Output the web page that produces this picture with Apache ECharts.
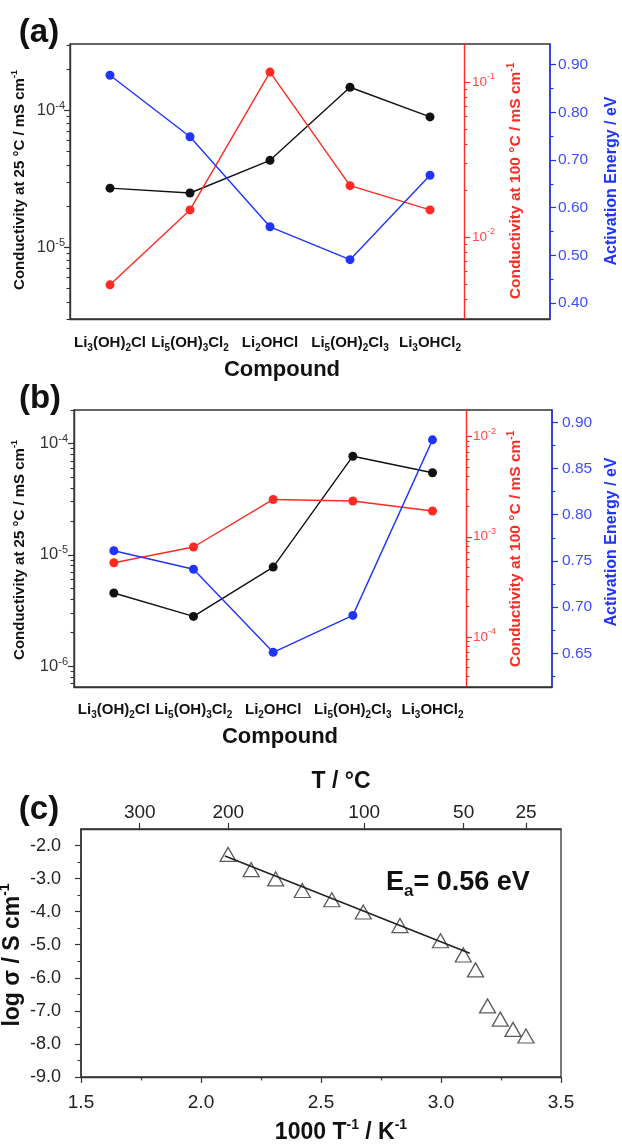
<!DOCTYPE html>
<html>
<head>
<meta charset="utf-8">
<script src="https://cdn.jsdelivr.net/npm/echarts@6/dist/echarts.min.js"></script>
<style>
html, body { margin: 0; padding: 0; background: #fff; }
#chart { width: 622px; height: 1145px; }
</style>
</head>
<body>
<div id="chart"></div>
<script>
// compounds on the x axis of (a) and (b); the 6th slot is left empty
var compounds = ['Li3(OH)2Cl', 'Li5(OH)3Cl2', 'Li2OHCl', 'Li5(OH)2Cl3', 'Li3OHCl2', ''];

// (a)
var condRtA = [2.70e-5, 2.49e-5, 4.31e-5, 1.47e-4, 8.94e-5];
var cond100A = [4.93e-3, 1.50e-2, 1.16e-1, 2.15e-2, 1.50e-2];
var eaA = [0.878, 0.749, 0.560, 0.491, 0.668];

// (b)
var condRtB = [4.54e-6, 2.80e-6, 7.76e-6, 7.69e-5, 5.46e-5];
var cond100B = [5.5e-4, 7.9e-4, 2.36e-3, 2.28e-3, 1.81e-3];
var eaB = [0.761, 0.741, 0.651, 0.691, 0.881];

// (c) arrhenius plot
var invT = [2.113, 2.209, 2.311, 2.422, 2.545, 2.676, 2.829, 2.998, 3.093, 3.144, 3.194, 3.247, 3.300, 3.354];
var logSigma = [-2.27, -2.73, -3.01, -3.36, -3.64, -4.01, -4.42, -4.88, -5.31, -5.76, -6.85, -7.25, -7.56, -7.76];
var fitX = [2.10, 3.12];
var fitY = [-2.32, -5.26];

// tick labels
var rtTicksA = [1e-5, 1e-4];
var hiTicksA = [1e-2, 1e-1];
var eaTicksA = [0.40, 0.50, 0.60, 0.70, 0.80, 0.90];
var rtTicksB = [1e-6, 1e-5, 1e-4];
var hiTicksB = [1e-4, 1e-3, 1e-2];
var eaTicksB = [0.65, 0.70, 0.75, 0.80, 0.85, 0.90];
var tempTicks = [300, 200, 100, 50, 25];
var logTicks = [-9, -8, -7, -6, -5, -4, -3, -2];

var FONT = '"Liberation Sans", Arial, Helvetica, sans-serif';
var RED = '#ff2a22', RED_LBL = '#ff4a48', BLUE = '#1f35ff', BLUE_LBL = '#3f4dff', DARK = '#333';

function logMinor(lo, hi) {
    var out = [];
    for (var e = Math.floor(Math.log10(lo)); e <= Math.ceil(Math.log10(hi)); e++) {
        for (var k = 2; k <= 9; k++) {
            var v = k * Math.pow(10, e);
            if (v >= lo && v <= hi) out.push(v);
        }
    }
    return out;
}
function midMinor(ticks, lo, hi) {
    var step = ticks[1] - ticks[0], out = [];
    for (var i = -1; i < ticks.length; i++) {
        var v = +(ticks[0] + (i + 0.5) * step).toFixed(4);
        if (v > lo && v < hi) out.push(v);
    }
    return out;
}

function yLog(grid, pos, offset, min, max, ticks, color, lblColor, fs, margin) {
    return {
        type: 'log', logBase: 10, gridIndex: grid, position: pos, offset: offset, min: min, max: max,
        splitLine: { show: false },
        axisLine: { show: true, onZero: false, lineStyle: { color: color, width: 1.4 } },
        axisTick: { show: true, length: 6, customValues: ticks, lineStyle: { color: color, width: 1.2 } },
        axisLabel: {
            customValues: ticks, margin: margin, color: lblColor, fontFamily: FONT, fontSize: fs, lineHeight: 20,
            formatter: function (v) { return '{b|10}{s|' + Math.round(Math.log10(v)) + '}'; },
            rich: {
                b: { fontFamily: FONT, fontSize: fs, color: lblColor, lineHeight: 20 },
                s: { fontFamily: FONT, fontSize: Math.round(fs * 0.65), color: lblColor, verticalAlign: 'top', lineHeight: 10 }
            }
        }
    };
}
function yLogMinor(grid, pos, offset, min, max, color) {
    return {
        type: 'log', logBase: 10, gridIndex: grid, position: pos, offset: offset, min: min, max: max,
        splitLine: { show: false }, axisLine: { show: false }, axisLabel: { show: false },
        axisTick: { show: true, length: 3.5, customValues: logMinor(min, max), lineStyle: { color: color, width: 1.1 } }
    };
}
function yLin(grid, pos, offset, min, max, ticks, color, lblColor, fs, margin, digits) {
    return {
        type: 'value', gridIndex: grid, position: pos, offset: offset, min: min, max: max,
        splitLine: { show: false },
        axisLine: { show: true, onZero: false, lineStyle: { color: color, width: 1.5 } },
        axisTick: { show: true, length: 6, customValues: ticks, lineStyle: { color: color, width: 1.2 } },
        axisLabel: {
            customValues: ticks, margin: margin, color: lblColor, fontFamily: FONT, fontSize: fs,
            formatter: function (v) { return v.toFixed(digits); }
        }
    };
}
function yLinMinor(grid, pos, offset, min, max, ticks, color) {
    return {
        type: 'value', gridIndex: grid, position: pos, offset: offset, min: min, max: max,
        splitLine: { show: false }, axisLine: { show: false }, axisLabel: { show: false },
        axisTick: { show: true, length: 3.5, customValues: midMinor(ticks, min, max), lineStyle: { color: color, width: 1.1 } }
    };
}
function xCat(grid, margin) {
    return {
        type: 'category', gridIndex: grid, position: 'bottom', data: compounds, boundaryGap: true,
        splitLine: { show: false },
        axisLine: { onZero: false, lineStyle: { color: DARK, width: 1.4 } },
        axisTick: { alignWithLabel: true, interval: 0, length: 5, lineStyle: { color: DARK, width: 1.2 } },
        axisLabel: {
            interval: 0, margin: margin, color: '#111', fontFamily: FONT, fontSize: 15, fontWeight: 'bold', lineHeight: 20,
            formatter: function (v) { return v.replace(/(\d)/g, '{s|$1}'); },
            rich: { s: { fontFamily: FONT, fontSize: 10, fontWeight: 'bold', color: '#111', verticalAlign: 'bottom', lineHeight: 10 } }
        }
    };
}
function lineSeries(xi, yi, data, color) {
    return {
        type: 'line', xAxisIndex: xi, yAxisIndex: yi, data: data,
        symbol: 'circle', symbolSize: 9, showSymbol: true,
        lineStyle: { color: color, width: 1.4 }, itemStyle: { color: color }
    };
}
function txt(text, x, y, size, color, rot, align) {
    return {
        type: 'text', x: x, y: y, rotation: rot || 0, silent: true,
        style: {
            text: text, fontFamily: FONT, fontSize: size, fontWeight: 'bold', fill: color,
            align: align || 'center', verticalAlign: 'middle', lineHeight: Math.round(size * 1.25),
            rich: {
                sup: { fontFamily: FONT, fontSize: Math.round(size * 0.62), fontWeight: 'bold', fill: color, verticalAlign: 'top', lineHeight: Math.round(size * 0.62) },
                sub: { fontFamily: FONT, fontSize: Math.round(size * 0.62), fontWeight: 'bold', fill: color, verticalAlign: 'bottom', lineHeight: Math.round(size * 0.45) }
            }
        }
    };
}

var gridBase = { show: true, borderColor: DARK, borderWidth: 1.3, backgroundColor: 'transparent', containLabel: false, outerBoundsMode: 'none' };
var R90 = Math.PI / 2;

var option = {
    animation: false,
    backgroundColor: '#fff',
    textStyle: { fontFamily: FONT },
    grid: [
        Object.assign({ left: 70, top: 44, width: 480, height: 275 }, gridBase),
        Object.assign({ left: 74, top: 410, width: 478, height: 277 }, gridBase),
        Object.assign({ left: 81, top: 829, width: 480, height: 248 }, gridBase)
    ],
    xAxis: [
        xCat(0, 14),
        xCat(1, 13),
        {
            type: 'value', gridIndex: 2, position: 'bottom', min: 1.5, max: 3.5, interval: 0.5,
            splitLine: { show: false },
            axisLine: { onZero: false, lineStyle: { color: DARK, width: 1.4 } },
            axisTick: { length: 6, lineStyle: { color: DARK, width: 1.2 } },
            minorTick: { show: true, splitNumber: 2, length: 3.5, lineStyle: { color: DARK, width: 1.1 } },
            axisLabel: { margin: 16, color: '#222', fontSize: 19, fontFamily: FONT, formatter: function (v) { return v.toFixed(1); } }
        },
        {
            type: 'value', gridIndex: 2, position: 'top', min: 1.5, max: 3.5,
            splitLine: { show: false },
            axisLine: { onZero: false, lineStyle: { color: DARK, width: 1.4 } },
            axisTick: { length: 6, customValues: tempTicks.map(function (t) { return 1000 / (t + 273.15); }), lineStyle: { color: DARK, width: 1.2 } },
            axisLabel: {
                margin: 7, color: '#222', fontSize: 19, fontFamily: FONT,
                customValues: tempTicks.map(function (t) { return 1000 / (t + 273.15); }),
                formatter: function (v) { return String(Math.round(1000 / v - 273.15)); }
            }
        }
    ],
    yAxis: [
        // (a)
        yLog(0, 'left', 0, 3.0e-6, 3.04e-4, rtTicksA, DARK, '#333', 16.5, 5),
        yLogMinor(0, 'left', 0, 3.0e-6, 3.04e-4, DARK),
        yLog(0, 'right', -86, 2.97e-3, 0.176, hiTicksA, RED, RED_LBL, 13.5, 8),
        yLogMinor(0, 'right', -86, 2.97e-3, 0.176, RED),
        yLin(0, 'right', 0, 0.3665, 0.9435, eaTicksA, BLUE, BLUE_LBL, 15.5, 8, 2),
        yLinMinor(0, 'right', 0, 0.3665, 0.9435, eaTicksA, BLUE),
        // (b)
        yLog(1, 'left', 0, 6.5e-7, 2.0e-4, rtTicksB, DARK, '#333', 16.5, 6),
        yLogMinor(1, 'left', 0, 6.5e-7, 2.0e-4, DARK),
        yLog(1, 'right', -86, 3.15e-5, 1.85e-2, hiTicksB, RED, RED_LBL, 13.5, 7),
        yLogMinor(1, 'right', -86, 3.15e-5, 1.85e-2, RED),
        yLin(1, 'right', 0, 0.6135, 0.9133, eaTicksB, BLUE, BLUE_LBL, 15.5, 10, 2),
        yLinMinor(1, 'right', 0, 0.6135, 0.9133, eaTicksB, BLUE),
        // (c)
        yLin(2, 'left', 0, -9, -1.5, logTicks, DARK, '#222', 18, 20, 1),
        yLinMinor(2, 'left', 0, -9, -1.5, logTicks, DARK)
    ],
    series: [
        lineSeries(0, 0, condRtA, '#111'),
        lineSeries(0, 2, cond100A, RED),
        lineSeries(0, 4, eaA, BLUE),
        lineSeries(1, 6, condRtB, '#111'),
        lineSeries(1, 8, cond100B, RED),
        lineSeries(1, 10, eaB, BLUE),
        {
            type: 'scatter', xAxisIndex: 2, yAxisIndex: 12,
            data: invT.map(function (x, i) { return [x, logSigma[i]]; }),
            symbol: 'triangle', symbolSize: [16, 14],
            itemStyle: { color: 'rgba(255,255,255,0)', borderColor: '#333', borderWidth: 1.3 }
        },
        {
            type: 'line', xAxisIndex: 2, yAxisIndex: 12,
            data: fitX.map(function (x, i) { return [x, fitY[i]]; }),
            symbol: 'none', lineStyle: { color: '#222', width: 1.6 }
        }
    ],
    graphic: { elements: [
        txt('(a)', 39, 33, 33, '#111'),
        txt('Conductivity at 25 °C / mS cm{sup|-1}', 20, 180, 15, '#111', R90),
        txt('Conductivity at 100 °C / mS cm{sup|-1}', 516, 181, 15.5, RED, R90),
        txt('Activation Energy / eV', 612, 181, 16, BLUE, R90),
        txt('Compound', 282, 370, 22, '#111'),

        txt('(b)', 40, 399, 33, '#111'),
        txt('Conductivity at 25 °C / mS cm{sup|-1}', 20, 550, 15, '#111', R90),
        txt('Conductivity at 100 °C / mS cm{sup|-1}', 516, 549, 15.5, RED, R90),
        txt('Activation Energy / eV', 612, 542, 16, BLUE, R90),
        txt('Compound', 280, 737, 22, '#111'),

        txt('(c)', 39, 810, 33, '#111'),
        txt('T / °C', 341, 782, 23, '#111'),
        txt('1000 T{sup|-1} / K{sup|-1}', 341, 1133, 23, '#111'),
        txt('log σ / S cm{sup|-1}', 13, 955, 23, '#111', R90),
        txt('E{sub|a}= 0.56 eV', 386, 883, 27, '#111', 0, 'left')
    ] }
};

var chart = echarts.init(document.getElementById('chart'), null, { renderer: 'canvas' });
chart.setOption(option);
</script>
</body>
</html>
